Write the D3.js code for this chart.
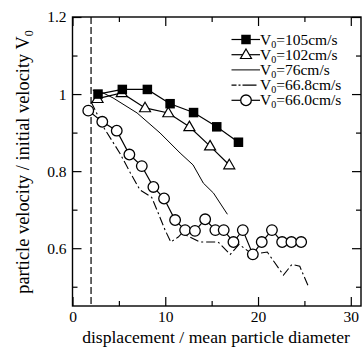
<!DOCTYPE html>
<html>
<head>
<meta charset="utf-8">
<script src="https://cdn.jsdelivr.net/npm/d3@7"></script>
<style>
  html, body { margin: 0; padding: 0; background: #fff; }
  svg { display: block; }
  text { font-family: "Liberation Serif", "Times New Roman", serif; fill: #000; }
</style>
</head>
<body>
<svg id="chart" width="362" height="350"></svg>
<script>
// Particle velocity ratio versus non-dimensional displacement for five launch speeds.
const legendLabels = ["=105cm/s", "=102cm/s", "=76cm/s", "=66.8cm/s", "=66.0cm/s"];

const x105 = [2.75, 5.37, 8.07, 10.52, 13.05, 15.55, 17.89];
const y105 = [1.000, 1.012, 1.012, 0.975, 0.952, 0.915, 0.875];

const x102 = [2.70, 5.31, 7.82, 10.33, 12.60, 14.83, 16.90];
const y102 = [0.988, 1.003, 0.964, 0.951, 0.915, 0.865, 0.816];

const x76 = [2.18, 3.29, 4.37, 6.96, 9.44, 10.52, 11.60, 13.00, 14.10, 15.20, 16.70];
const y76 = [1.010, 1.003, 0.990, 0.951, 0.899, 0.873, 0.847, 0.816, 0.769, 0.743, 0.688];

const x668 = [2.00, 3.32, 5.12, 6.20, 7.28, 8.54, 9.26, 9.98, 10.60, 11.40, 11.80, 13.75, 15.70, 17.00, 17.96, 19.40, 21.00, 22.74, 23.65, 24.50, 25.44];
const y668 = [0.980, 0.915, 0.846, 0.797, 0.751, 0.732, 0.690, 0.647, 0.616, 0.629, 0.639, 0.616, 0.616, 0.584, 0.610, 0.584, 0.590, 0.530, 0.558, 0.553, 0.500];

const x660 = [1.70, 3.21, 4.77, 6.13, 7.47, 8.72, 9.87, 11.06, 12.14, 13.20, 14.30, 15.40, 16.30, 17.35, 18.36, 19.44, 20.40, 21.50, 22.60, 23.60, 24.65];
const y660 = [0.957, 0.928, 0.905, 0.843, 0.813, 0.759, 0.729, 0.673, 0.647, 0.645, 0.675, 0.647, 0.647, 0.616, 0.647, 0.584, 0.616, 0.647, 0.616, 0.616, 0.616];

const xMajorTicks = [0, 10, 20, 30];
const xMinorTicks = [5, 15, 25];
const yMajorTicks = [0.6, 0.8, 1.0, 1.2];
const yMinorTicks = [0.5, 0.7, 0.9, 1.1];
const yTickLabels = ["0.6", "0.8", "1", "1.2"];
const startDisplacement = 2;

const svg = d3.select("#chart");
const pL = 72.5, pR = 361, pT = 17, pB = 306;
const serif = "'Liberation Serif', 'Times New Roman', serif";

const x = d3.scaleLinear().domain([0, 31.1]).range([pL, pR]);
const y = d3.scaleLinear().domain([0.45, 1.2]).range([pB, pT]);

const zip = (xs, ys) => xs.map((v, i) => [v, ys[i]]);
const line = d3.line().x(d => x(d[0])).y(d => y(d[1]));

// Frame with inward ticks on all four sides
svg.append("rect")
  .attr("x", pL).attr("y", pT)
  .attr("width", pR - pL).attr("height", pB - pT)
  .attr("fill", "none").attr("stroke", "#000").attr("stroke-width", 1.4);

const majorLen = 9, minorLen = 5;
const mk = (axisFn, scale, vals, len, pos, fmt, pad) => {
  const ax = axisFn(scale).tickValues(vals).tickSizeInner(-len).tickSizeOuter(0)
    .tickPadding(pad || 3).tickFormat(fmt || "");
  const g = svg.append("g").attr("transform", pos).call(ax)
    .attr("font-family", serif).attr("font-size", 15.5);
  g.select(".domain").remove();
  g.selectAll(".tick line").attr("stroke", "#000").attr("stroke-width", 1.2);
  g.selectAll(".tick text")
    .style("font-family", serif)
    .style("font-size", "15.5px").attr("fill", "#000");
  return g;
};
mk(d3.axisBottom, x, xMajorTicks, majorLen, `translate(0,${pB})`, d3.format("d"), 5);
mk(d3.axisBottom, x, xMinorTicks, minorLen, `translate(0,${pB})`);
mk(d3.axisTop, x, xMajorTicks, majorLen, `translate(0,${pT})`);
mk(d3.axisTop, x, xMinorTicks, minorLen, `translate(0,${pT})`);
mk(d3.axisLeft, y, yMajorTicks, majorLen, `translate(${pL},0)`, (d, i) => yTickLabels[i], 6);
mk(d3.axisLeft, y, yMinorTicks, minorLen, `translate(${pL},0)`);
mk(d3.axisRight, y, yMajorTicks, majorLen, `translate(${pR},0)`);
mk(d3.axisRight, y, yMinorTicks, minorLen, `translate(${pR},0)`);

// Initial position marker
svg.append("line")
  .attr("x1", x(startDisplacement)).attr("x2", x(startDisplacement))
  .attr("y1", pT).attr("y2", pB)
  .attr("stroke", "#000").attr("stroke-width", 1.2)
  .attr("stroke-dasharray", "7,3");

// Series lines
const plot = svg.append("g");
plot.append("path").datum(zip(x76, y76)).attr("d", line)
  .attr("fill", "none").attr("stroke", "#000").attr("stroke-width", 1);
plot.append("path").datum(zip(x668, y668)).attr("d", line)
  .attr("fill", "none").attr("stroke", "#000").attr("stroke-width", 1.1)
  .attr("stroke-dasharray", "9,3,2,3");
plot.append("path").datum(zip(x660, y660)).attr("d", line)
  .attr("fill", "none").attr("stroke", "#000").attr("stroke-width", 1.2);
plot.append("path").datum(zip(x102, y102)).attr("d", line)
  .attr("fill", "none").attr("stroke", "#000").attr("stroke-width", 1.2);
plot.append("path").datum(zip(x105, y105)).attr("d", line)
  .attr("fill", "none").attr("stroke", "#000").attr("stroke-width", 1.2);

// Markers
const sq = 9.5, cr = 5.3;
const triPath = (cx, cy) => {
  const s = 11, h = s * 0.866;
  return `M${cx},${cy - h * 0.6}L${cx + s / 2},${cy + h * 0.4}L${cx - s / 2},${cy + h * 0.4}Z`;
};
plot.selectAll(".c660").data(zip(x660, y660)).join("circle")
  .attr("cx", d => x(d[0])).attr("cy", d => y(d[1])).attr("r", cr)
  .attr("fill", "#fff").attr("stroke", "#000").attr("stroke-width", 1.3);
plot.selectAll(".t102").data(zip(x102, y102)).join("path")
  .attr("d", d => triPath(x(d[0]), y(d[1])))
  .attr("fill", "#fff").attr("stroke", "#000").attr("stroke-width", 1.2);
plot.selectAll(".s105").data(zip(x105, y105)).join("rect")
  .attr("x", d => x(d[0]) - sq / 2).attr("y", d => y(d[1]) - sq / 2)
  .attr("width", sq).attr("height", sq).attr("fill", "#000");

// Legend
const lg = svg.append("g");
const lx0 = 231.5, lx1 = 260, lmx = 246, ly0 = 39.5, ldy = 15.2;
legendLabels.forEach((lab, i) => {
  const yy = ly0 + i * ldy;
  const ln = lg.append("line").attr("x1", lx0).attr("x2", lx1).attr("y1", yy).attr("y2", yy)
    .attr("stroke", "#000").attr("stroke-width", i === 2 ? 1 : 1.2);
  if (i === 3) ln.attr("stroke-dasharray", "5,2,2,2,14");
  if (i === 0) lg.append("rect").attr("x", lmx - sq / 2).attr("y", yy - sq / 2).attr("width", sq).attr("height", sq).attr("fill", "#000");
  if (i === 1) lg.append("path").attr("d", triPath(lmx, yy)).attr("fill", "#fff").attr("stroke", "#000").attr("stroke-width", 1.2);
  if (i === 4) lg.append("circle").attr("cx", lmx).attr("cy", yy).attr("r", cr).attr("fill", "#fff").attr("stroke", "#000").attr("stroke-width", 1.3);
  const t = lg.append("text").attr("x", lx1).attr("y", yy + 5).attr("font-size", 15.5);
  t.append("tspan").text("V");
  t.append("tspan").attr("font-size", 10).attr("dy", 3).text("0");
  t.append("tspan").attr("dy", -3).text(lab);
});

// Axis titles
svg.append("text")
  .attr("x", 216).attr("y", 343)
  .attr("text-anchor", "middle").attr("font-size", 17.6)
  .text("displacement / mean particle diameter");

const yt = svg.append("text")
  .attr("transform", `translate(29,162) rotate(-90)`)
  .attr("text-anchor", "middle").attr("font-size", 18.4);
yt.append("tspan").text("particle velocity / initial velocity V");
yt.append("tspan").attr("font-size", 12).attr("dy", 4).text("0");
</script>
</body>
</html>
